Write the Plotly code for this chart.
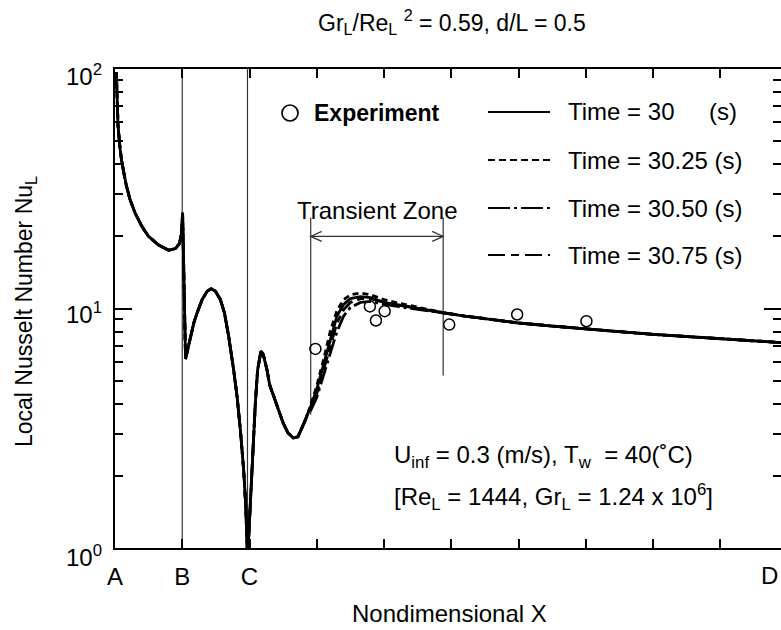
import plotly.graph_objects as go

# ---------------- data ----------------
X_TICK_VALS = [0, 1, 2, 3, 4, 5, 6, 7, 8, 9]
X_TICK_TEXT = ["A", "B", "C", "", "", "", "", "", "", ""]
END_LABEL = "D"
Y_TICK_VALS = [1, 10, 100]
Y_TICK_TEXT = ["10<sup>0</sup>", "10<sup>1</sup>", "10<sup>2</sup>"]
Y_MINOR = [2, 3, 4, 5, 6, 7, 8, 9, 20, 30, 40, 50, 60, 70, 80, 90]

# common part of the curve (A .. start of transient zone)
X_HEAD = [0.02, 0.03, 0.045, 0.071, 0.095, 0.131, 0.170, 0.222, 0.297, 0.397, 0.498,
          0.649, 0.80, 0.90, 0.96, 0.99, 1.005,
          1.049, 1.083, 1.123, 1.172, 1.222, 1.296, 1.370, 1.430, 1.493, 1.567, 1.627,
          1.690, 1.764, 1.815, 1.864, 1.913, 1.942, 1.963, 1.972,
          2.013, 2.047, 2.087, 2.121, 2.146, 2.170, 2.20, 2.26, 2.30, 2.38, 2.50,
          2.57, 2.65, 2.72, 2.77, 2.82, 2.87]
NU_HEAD = [96.9, 74.9, 57.9, 47.8, 42.0, 36.9, 32.5, 28.6, 25.1, 22.1, 20.0,
           18.4, 17.5, 17.8, 18.7, 20.7, 25.1,
           6.16, 6.73, 7.66, 8.71, 9.6, 10.9, 11.8, 12.1, 11.8, 10.9, 9.6,
           7.66, 5.55, 4.29, 3.12, 2.12, 1.54, 1.11, 0.9,
           1.54, 2.49, 4.03, 5.55, 6.2, 6.63, 6.5, 5.55, 4.8, 4.16, 3.33,
           3.03, 2.88, 2.91, 3.12, 3.37, 3.66]

# transient zone, one series per time
X_ZONE = [2.91, 3.0, 3.1, 3.2, 3.3, 3.4, 3.5, 3.65, 3.8, 4.0, 4.2, 4.4, 4.65, 4.88]
NU_T30 = [3.9, 4.6, 5.8, 7.5, 9.3, 10.4, 11.0, 11.2, 11.1, 10.6, 10.35, 10.1, 9.85, 9.6]
NU_T3025 = [3.95, 4.75, 6.1, 8.0, 9.8, 10.9, 11.4, 11.6, 11.4, 10.9, 10.55, 10.25, 9.9, 9.62]
NU_T3050 = [3.75, 4.25, 5.2, 6.5, 8.0, 9.3, 10.1, 10.6, 10.7, 10.4, 10.2, 10.0, 9.75, 9.55]
NU_T3075 = [3.85, 4.4, 5.5, 7.0, 8.7, 9.9, 10.6, 11.0, 11.0, 10.6, 10.35, 10.1, 9.82, 9.58]

# common tail after the transient zone
X_TAIL = [5.2, 5.6, 6.0, 6.5, 7.0, 7.5, 8.0, 8.5, 9.0, 9.5, 9.92]
NU_TAIL = [9.3, 9.0, 8.7, 8.45, 8.2, 8.0, 7.8, 7.65, 7.5, 7.35, 7.2]

# experiment
X_EXP = [2.98, 3.79, 3.88, 4.01, 4.97, 5.98, 7.01]
NU_EXP = [6.78, 10.2, 8.91, 9.75, 8.57, 9.44, 8.85]

SERIES_NAMES = ["Time = 30", "Time = 30.25 (s)", "Time = 30.50 (s)", "Time = 30.75 (s)"]
SERIES_NU = [NU_T30, NU_T3025, NU_T3050, NU_T3075]

# reference lines / transient-zone marker
SECTION_LINES = [1, 1.97]
ZONE_START, ZONE_END = 2.91, 4.88
ZONE_TOP = 24.0
ZONE_BOTTOMS = [3.6, 5.25]
ARROW_Y = 20.0

# ---------------- styling ----------------
FONT = "Liberation Sans, Arial, sans-serif"
FS = 24
W, H = 781, 630
L, R, T, B = 115, 781, 69, 548
DASHES = ["solid", "6px,4px", "18px,4px,3px,4px", "14px,5px,7px,5px"]
LEG_DASHES = ["solid", "7px,4px", "22px,4px,3px,4px", "17px,6px,8px,6px"]


def px2x(px):
    return (px - L) / (R - L)


def py2y(py):
    return (B - py) / (B - T)


fig = go.Figure()

for nu, name, dash in zip(SERIES_NU, SERIES_NAMES, DASHES):
    fig.add_trace(go.Scatter(
        x=X_HEAD + X_ZONE + X_TAIL,
        y=NU_HEAD + nu + NU_TAIL,
        mode="lines",
        name=name,
        line=dict(color="black", width=2.8, dash=dash),
        showlegend=False,
    ))

fig.add_trace(go.Scatter(
    x=X_EXP, y=NU_EXP, mode="markers", name="Experiment",
    marker=dict(symbol="circle-open", size=11, color="black", line=dict(width=1.5, color="black")),
    showlegend=False,
))

shapes = []
for xv in SECTION_LINES:
    shapes.append(dict(type="line", xref="x", yref="paper", x0=xv, x1=xv, y0=0, y1=1,
                       line=dict(color="#333", width=1.2), layer="below"))
for xv, yb in zip([ZONE_START, ZONE_END], ZONE_BOTTOMS):
    shapes.append(dict(type="line", xref="x", yref="y", x0=xv, x1=xv, y0=yb, y1=ZONE_TOP,
                       line=dict(color="#333", width=1.2), layer="below"))
shapes.append(dict(type="line", xref="x", yref="y", x0=ZONE_START, x1=ZONE_END, y0=ARROW_Y, y1=ARROW_Y,
                   line=dict(color="#333", width=1.2)))
# open arrow heads
shapes.append(dict(type="path", xref="x", yref="y", xsizemode="pixel", ysizemode="pixel",
                   xanchor=ZONE_START, yanchor=ARROW_Y, path="M 11 5 L 0 0 L 11 -5",
                   line=dict(color="#333", width=1.2)))
shapes.append(dict(type="path", xref="x", yref="y", xsizemode="pixel", ysizemode="pixel",
                   xanchor=ZONE_END, yanchor=ARROW_Y, path="M -11 5 L 0 0 L -11 -5",
                   line=dict(color="#333", width=1.2)))

# legend keys
LEG_ROWS = [112, 160, 208, 255]
for row, dash in zip(LEG_ROWS, LEG_DASHES):
    shapes.append(dict(type="line", xref="paper", yref="paper", x0=px2x(488), x1=px2x(550),
                       y0=py2y(row), y1=py2y(row), line=dict(color="black", width=2.2, dash=dash)))
shapes.append(dict(type="circle", xref="paper", yref="paper", xsizemode="pixel", ysizemode="pixel",
                   xanchor=px2x(290), yanchor=py2y(113), x0=-8, x1=8, y0=-8, y1=8,
                   line=dict(color="black", width=1.7)))

ann = []


def text(px, py, s, size=FS, xanchor="left", bold=False, **kw):
    ann.append(dict(xref="paper", yref="paper", x=px2x(px), y=py2y(py), text=s,
                    showarrow=False, xanchor=xanchor, yanchor="middle",
                    font=dict(family=FONT, size=size, color="black",
                              weight="bold" if bold else "normal"), **kw))


text(312, 113, "Experiment", size=23, bold=True)
for row, name in zip(LEG_ROWS, SERIES_NAMES):
    text(566, row, name)
text(739, LEG_ROWS[0], "(s)", xanchor="right")
text(377, 211, "Transient Zone", xanchor="center")
text(392, 456, "U<sub>inf</sub> = 0.3 (m/s), T<sub>w</sub>  = 40(˚C)")
text(392, 497, "[Re<sub>L</sub> = 1444, Gr<sub>L</sub> = 1.24 x 10<sup>6</sup>]")
text(452, 22, "Gr<sub>L</sub>/Re<sub>L</sub> <sup>2</sup> = 0.59, d/L = 0.5", size=23, xanchor="center")
text(449, 613, "Nondimensional X", xanchor="center")
# end label D, kept fully inside the page
text(780, 575, END_LABEL, xanchor="right")
ann.append(dict(xref="paper", yref="paper", x=px2x(25), y=py2y(312), text="Local Nusselt Number Nu<sub>L</sub>",
                showarrow=False, textangle=-90, xanchor="center", yanchor="middle",
                font=dict(family=FONT, size=23, color="black")))
# y tick labels (slightly below their ticks as in the reference)
for lv, lab, shift in zip([0, 1, 2], Y_TICK_TEXT, [-8, -4, -6]):
    ann.append(dict(xref="paper", yref="y", x=px2x(104), y=lv, text=lab,
                    showarrow=False, xanchor="right", yanchor="middle", yshift=shift,
                    font=dict(family=FONT, size=FS, color="black")))

fig.update_layout(
    width=W, height=H,
    margin=dict(l=L, r=W - R, t=T, b=H - B, autoexpand=False),
    paper_bgcolor="white", plot_bgcolor="white",
    font=dict(family=FONT, size=FS, color="black"),
    shapes=shapes, annotations=ann, showlegend=False,
)
fig.update_xaxes(
    range=[0, (R - L) / 67.25], showgrid=False, zeroline=False,
    showline=True, linecolor="black", linewidth=2, mirror="ticks",
    ticks="inside", ticklen=9, tickwidth=2, tickcolor="black",
    tickvals=X_TICK_VALS, ticktext=X_TICK_TEXT, ticklabelstandoff=6,
    tickfont=dict(family=FONT, size=FS, color="black"),
)
fig.update_yaxes(
    type="log", range=[0, 2], showgrid=False, zeroline=False,
    showline=True, linecolor="black", linewidth=2, mirror="ticks",
    ticks="inside", ticklen=17, tickwidth=2, tickcolor="black",
    tickvals=Y_TICK_VALS, showticklabels=False,
    minor=dict(ticks="inside", ticklen=8, tickwidth=1.5, tickcolor="black", tickvals=Y_MINOR, showgrid=False),
)

fig.write_html("out.html")
